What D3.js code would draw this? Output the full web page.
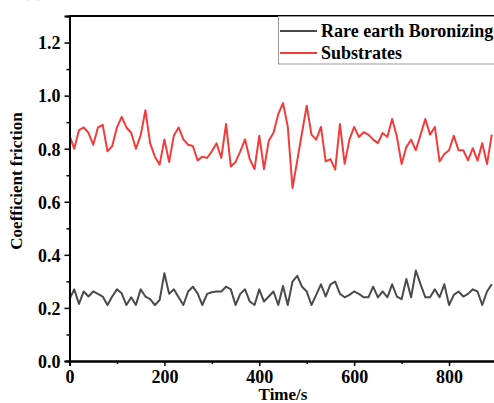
<!DOCTYPE html>
<html>
<head>
<meta charset="utf-8">
<script src="https://cdn.jsdelivr.net/npm/d3@7"></script>
<style>
  body { margin: 0; background: #fff; }
  svg { display: block; font-family: "Liberation Serif", "Times New Roman", serif; font-weight: bold; }
</style>
</head>
<body>
<svg></svg>
<script>
const width = 494;
const height = 403;

// sampling times (s)
var times = [0,10,20,30,40,50,60,70,80,90,100,110,120,130,140,150,160,170,180,190,
  200,210,220,230,240,250,260,270,280,290,300,310,320,330,340,350,360,370,380,390,
  400,410,420,430,440,450,460,470,480,490,500,510,520,530,540,550,560,570,580,590,
  600,610,620,630,640,650,660,670,680,690,700,710,720,730,740,750,760,770,780,790,
  800,810,820,830,840,850,860,870,880,890];

var boronizing = [0.233,0.27,0.215,0.262,0.243,0.262,0.253,0.243,0.211,0.243,
  0.27,0.255,0.211,0.24,0.211,0.27,0.243,0.233,0.211,0.23,
  0.331,0.253,0.27,0.24,0.211,0.262,0.28,0.255,0.211,0.253,
  0.259,0.262,0.262,0.28,0.27,0.211,0.253,0.27,0.224,0.211,
  0.27,0.224,0.243,0.262,0.211,0.283,0.211,0.299,0.321,0.28,
  0.262,0.211,0.249,0.289,0.243,0.289,0.299,0.253,0.24,0.249,
  0.262,0.253,0.24,0.24,0.28,0.24,0.262,0.24,0.289,0.243,
  0.233,0.309,0.24,0.341,0.289,0.24,0.24,0.27,0.24,0.289,
  0.211,0.249,0.262,0.243,0.253,0.27,0.262,0.211,0.262,0.289];

var substrates = [0.85,0.80,0.87,0.88,0.86,0.815,0.88,0.89,0.79,0.81,
  0.88,0.92,0.88,0.86,0.80,0.85,0.945,0.82,0.77,0.74,
  0.835,0.75,0.85,0.88,0.835,0.815,0.81,0.756,0.77,0.765,
  0.79,0.82,0.765,0.893,0.733,0.75,0.79,0.835,0.76,0.723,
  0.849,0.723,0.83,0.86,0.93,0.972,0.884,0.652,0.755,0.859,
  0.962,0.853,0.834,0.882,0.752,0.761,0.721,0.893,0.743,0.834,
  0.882,0.844,0.862,0.853,0.834,0.821,0.859,0.844,0.912,0.846,
  0.742,0.806,0.834,0.794,0.853,0.912,0.853,0.882,0.752,0.78,
  0.794,0.849,0.794,0.794,0.756,0.802,0.755,0.821,0.742,0.853];

var xTicks = [0,200,400,600,800];
var xMinor = [100,300,500,700,900];
var yTicks = [0,0.2,0.4,0.6,0.8,1.0,1.2];
var yMinor = [0.1,0.3,0.5,0.7,0.9,1.1];

var seriesNames = ["Rare earth Boronizing","Substrates"];
var seriesColors = ["#4a4a4a","#f23c3c"];

var xScale = d3.scaleLinear().domain([0,900]).range([69.5,496.5]);
var yScale = d3.scaleLinear().domain([0,1.3]).range([361,16]);

var svg = d3.select("svg").attr("width",width).attr("height",height);

// panel label, mostly above the picture's top edge (cropped in the source)
svg.append("text").text("(a)")
  .attr("x",43).attr("y",-3).attr("text-anchor","end").attr("font-size",17);

// top frame line
svg.append("line")
  .attr("x1",xScale(0)).attr("x2",width)
  .attr("y1",yScale(1.3)).attr("y2",yScale(1.3))
  .attr("stroke","#000").attr("stroke-width",2);

// lines
var line = d3.line().x((d,i)=>xScale(times[i])).y(d=>yScale(d));
[boronizing, substrates].forEach((s,k)=>{
  svg.append("path")
    .attr("d",line(s))
    .attr("fill","none")
    .attr("stroke",seriesColors[k])
    .attr("stroke-width",2)
    .attr("stroke-linejoin","round");
});

// axes
var xAxis = svg.append("g").attr("transform",`translate(0,${yScale(0)})`)
  .call(d3.axisBottom(xScale).tickValues(xTicks).tickSize(5).tickPadding(4).tickFormat(d3.format("d")));
var xAxisMinor = svg.append("g").attr("transform",`translate(0,${yScale(0)})`)
  .call(d3.axisBottom(xScale).tickValues(xMinor).tickSize(3).tickFormat(""));
var yAxis = svg.append("g").attr("transform",`translate(${xScale(0)},0)`)
  .call(d3.axisLeft(yScale).tickValues(yTicks).tickSize(5).tickPadding(4).tickFormat(d3.format(".1f")));
var yAxisMinor = svg.append("g").attr("transform",`translate(${xScale(0)},0)`)
  .call(d3.axisLeft(yScale).tickValues(yMinor).tickSize(3).tickFormat(""));

[xAxis,xAxisMinor,yAxis,yAxisMinor].forEach(a=>{
  a.select(".domain").attr("stroke","#000").attr("stroke-width",2);
  a.selectAll(".tick line").attr("stroke","#000").attr("stroke-width",1.5);
  a.selectAll("text").attr("font-family","Liberation Serif, Times New Roman, serif")
    .attr("font-weight","bold").attr("font-size",18).attr("fill","#000");
});
yAxis.selectAll("text").attr("dy","0.35em");

// axis titles
svg.append("text").text("Time/s")
  .attr("x",283).attr("y",400).attr("text-anchor","middle").attr("font-size",17);
svg.append("text").text("Coefficient friction")
  .attr("transform","translate(22,181) rotate(-90)")
  .attr("text-anchor","middle").attr("font-size",17);

// legend
var legend = svg.append("g");
legend.append("rect")
  .attr("x",278.5).attr("y",16.5).attr("width",240).attr("height",47.5)
  .attr("fill","#fff").attr("stroke","#999").attr("stroke-width",1);
seriesNames.forEach((name,k)=>{
  var ly = 31 + k*22;
  legend.append("line")
    .attr("x1",280).attr("x2",317).attr("y1",ly).attr("y2",ly)
    .attr("stroke",seriesColors[k]).attr("stroke-width",2);
  legend.append("text").text(name)
    .attr("x",321).attr("y",ly+6).attr("font-size",18);
});
</script>
</body>
</html>
